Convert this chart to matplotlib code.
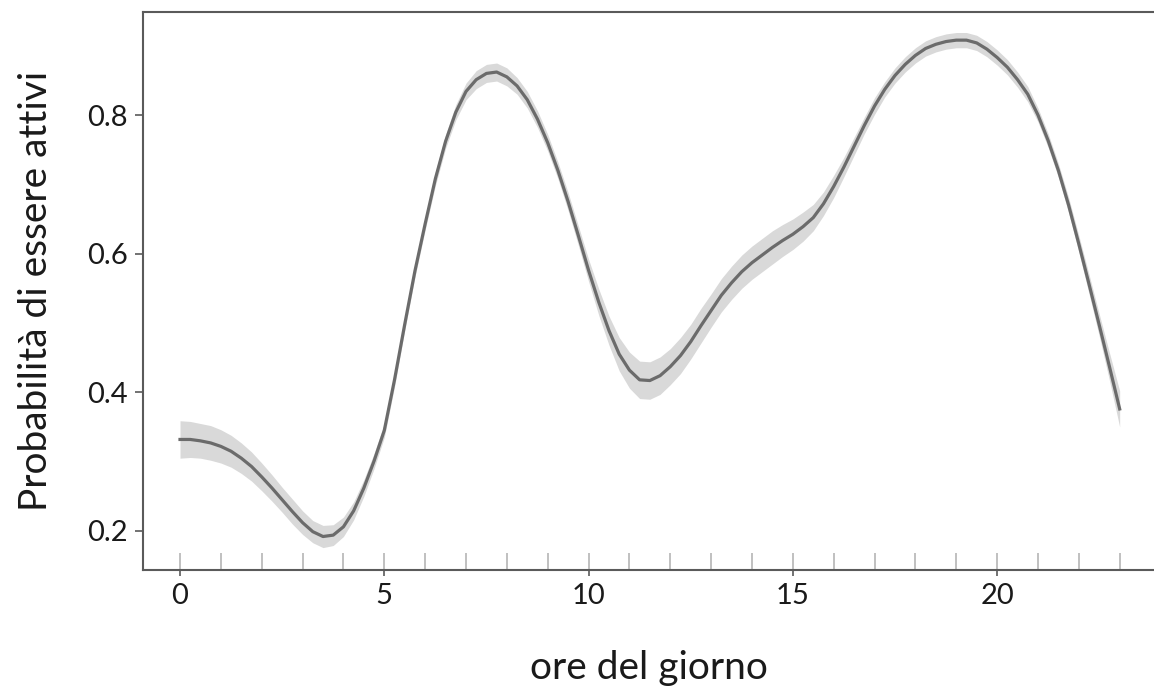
import matplotlib
matplotlib.use("Agg")
import matplotlib.pyplot as plt
import matplotlib.transforms as mtransforms
import numpy as np

# ---- data ----
ore = [0, 0.25, 0.5, 0.75, 1, 1.25, 1.5, 1.75, 2, 2.25, 2.5, 2.75, 3, 3.25,
       3.5, 3.75, 4, 4.25, 4.5, 4.75, 5, 5.25, 5.5, 5.75, 6, 6.25, 6.5, 6.75,
       7, 7.25, 7.5, 7.75, 8, 8.25, 8.5, 8.75, 9, 9.25, 9.5, 9.75, 10, 10.25,
       10.5, 10.75, 11, 11.25, 11.5, 11.75, 12, 12.25, 12.5, 12.75, 13, 13.25,
       13.5, 13.75, 14, 14.25, 14.5, 14.75, 15, 15.25, 15.5, 15.75, 16, 16.25,
       16.5, 16.75, 17, 17.25, 17.5, 17.75, 18, 18.25, 18.5, 18.75, 19, 19.25,
       19.5, 19.75, 20, 20.25, 20.5, 20.75, 21, 21.25, 21.5, 21.75, 22, 22.25,
       22.5, 22.75, 23]
prob = [0.332, 0.332, 0.330, 0.327, 0.322, 0.315, 0.305, 0.293, 0.278, 0.262,
        0.245, 0.228, 0.212, 0.199, 0.192, 0.194, 0.206, 0.229, 0.262, 0.301,
        0.345, 0.418, 0.498, 0.575, 0.643, 0.708, 0.762, 0.804, 0.834, 0.851,
        0.860, 0.862, 0.855, 0.842, 0.822, 0.794, 0.760, 0.720, 0.675, 0.626,
        0.576, 0.530, 0.489, 0.455, 0.432, 0.418, 0.417, 0.424, 0.437, 0.453,
        0.473, 0.496, 0.518, 0.540, 0.558, 0.574, 0.587, 0.598, 0.609, 0.619,
        0.628, 0.639, 0.652, 0.672, 0.697, 0.725, 0.755, 0.785, 0.813, 0.837,
        0.857, 0.873, 0.886, 0.896, 0.902, 0.906, 0.908, 0.908, 0.904, 0.895,
        0.883, 0.869, 0.851, 0.830, 0.800, 0.763, 0.720, 0.670, 0.614, 0.556,
        0.497, 0.437, 0.376]
semi_banda = [0.027, 0.026, 0.025, 0.025, 0.024, 0.023, 0.022, 0.021, 0.020,
              0.019, 0.018, 0.018, 0.017, 0.016, 0.016, 0.015, 0.014, 0.013,
              0.012, 0.011, 0.010, 0.010, 0.009, 0.009, 0.009, 0.010, 0.010,
              0.011, 0.012, 0.013, 0.013, 0.013, 0.013, 0.012, 0.012, 0.012,
              0.012, 0.012, 0.013, 0.014, 0.016, 0.019, 0.021, 0.024, 0.026,
              0.027, 0.027, 0.027, 0.026, 0.026, 0.025, 0.025, 0.024, 0.024,
              0.024, 0.024, 0.024, 0.024, 0.024, 0.023, 0.022, 0.021, 0.019,
              0.017, 0.016, 0.014, 0.013, 0.012, 0.012, 0.011, 0.011, 0.011,
              0.011, 0.011, 0.011, 0.011, 0.011, 0.011, 0.011, 0.011, 0.011,
              0.011, 0.011, 0.011, 0.010, 0.010, 0.010, 0.011, 0.012, 0.014,
              0.016, 0.020, 0.026]
rug_ore = list(range(0, 24))
xticks = [0, 5, 10, 15, 20]
yticks = [0.2, 0.4, 0.6, 0.8]
ytick_labels = ["0.2", "0.4", "0.6", "0.8"]

plt.rcParams['font.family'] = ['Lato', 'DejaVu Sans']

W, H = 1154, 687
fig = plt.figure(figsize=(W / 100, H / 100), dpi=100)
left, right, top, bottom = 143, 1154, 12, 570
ax = fig.add_axes([left / W, 1 - bottom / H, (right - left) / W, (bottom - top) / H])

x = np.array(ore)
y = np.array(prob)
s = np.array(semi_banda)
ax.fill_between(x, y - s, y + s, color='#d9d9d9', lw=0)
ax.plot(x, y, color='#6b6b6b', lw=2.3, solid_joinstyle='round')

trans = mtransforms.blended_transform_factory(ax.transData, ax.transAxes)
ax.vlines(rug_ore, 0, 0.03, transform=trans, color='#b5b5b5', lw=1.2)

ax.set_xlim(-0.906, 23.84)
ax.set_ylim(0.1437, 0.9486)

ax.set_xticks(xticks)
ax.set_xticklabels([str(t) for t in xticks])
ax.set_yticks(yticks)
ax.set_yticklabels(ytick_labels)

for sp in ['left', 'bottom', 'top']:
    ax.spines[sp].set_color('#5a5a5a')
    ax.spines[sp].set_linewidth(1.5)
ax.spines['right'].set_visible(False)

ax.tick_params(axis='both', colors='#5a5a5a', labelcolor='#1a1a1a', labelsize=21, width=1.2)
ax.tick_params(axis='x', length=4, pad=5)
ax.tick_params(axis='y', length=6, pad=5)

ax.set_xlabel('ore del giorno', fontsize=28, color='#1a1a1a', labelpad=30)
ax.set_ylabel('Probabilità di essere attivi', fontsize=28, color='#1a1a1a', labelpad=24)

fig.savefig('out.png', dpi=100, facecolor='white')
